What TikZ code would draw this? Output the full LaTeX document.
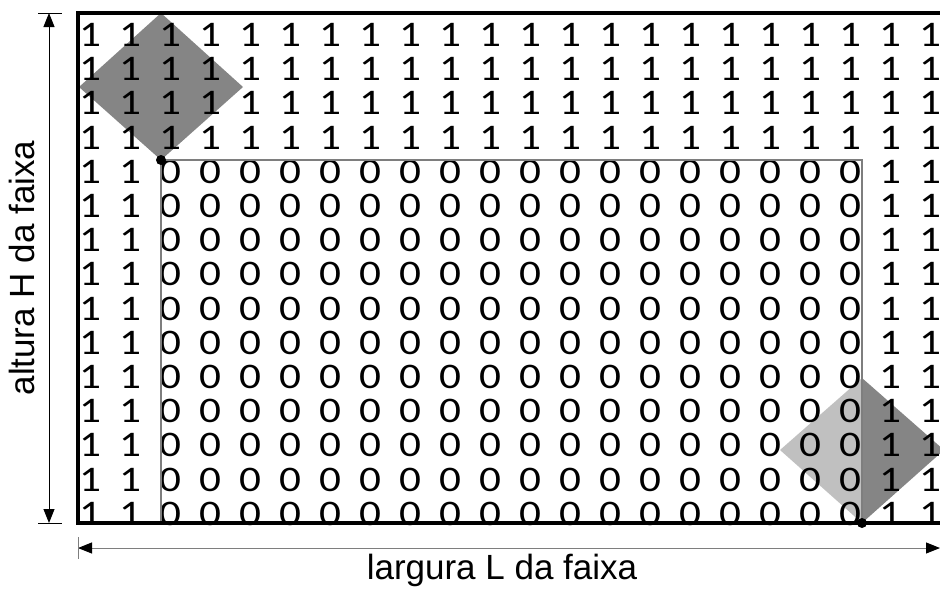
\documentclass[tikz,border=0pt]{standalone}
\usepackage{fontspec}
\setmainfont{Liberation Sans}
\newfontfamily\digitfont{Carlito}
\usetikzlibrary{calc,arrows.meta}
\definecolor{cellgray}{HTML}{858585}
\definecolor{cellgraylight}{HTML}{C0C0C0}
\definecolor{bordergray}{HTML}{7E7E7E}

\begin{document}
\begin{tikzpicture}[x=1pt,y=-1pt,
    digit/.style={anchor=base,inner sep=0pt,xscale=1.2,font=\digitfont\fontsize{36}{36}\selectfont},
    caption/.style={inner sep=0pt,font=\fontsize{35}{35}\selectfont},
    dimline/.style={line width=1pt,{Triangle[length=14pt,width=11pt,color=black]}-{Triangle[length=14pt,width=11pt,color=black]}}]
    \clip (0,0) rectangle (940,590);
    \def\size{5}
    \coordinate (TL) at ( 78, 13);
    \coordinate (TR) at (945, 13);
    \coordinate (BL) at ( 78,523);
    \coordinate (BR) at (945,523);
    \coordinate (P)  at (161,160);
    \coordinate (P') at (862,160);
    \coordinate (Q)  at (862,523);
    \coordinate (Q') at (161,523);
    \coordinate (HT) at ( 49, 13);
    \coordinate (HB) at ( 49,523);
    \coordinate (WL) at ( 78,548);
    \coordinate (WR) at (940,548);
    % window squares
    \fill[cellgray] (161,13) -- (243,87) -- (P) -- (79,87) -- cycle;
    \fill[cellgraylight] (862,378) -- (Q) -- (780,450) -- cycle;
    \fill[cellgray] (862,378) -- (944,450) -- (Q) -- cycle;
    % grid of cells
    \foreach \r in {0,...,14}
      \foreach \c in {0,...,21} {
        \pgfmathtruncatemacro\v{(\r<4)||(\c<2)||(\c>19)}
        \node[digit] (d\r-\c) at ({90+40*\c},{46.5+34.2*\r}) {\v};
      }
    \draw[bordergray,line width=2.5pt] (Q') -- (P) -- (P') -- (Q);
    \draw[line width=4pt] (TR) -- (TL) -- (BL) -- (BR);
    \fill (P) circle (\size); \fill (Q) circle (\size);
    % dimensions
    \draw[dimline] (HB) -- (HT);
    \draw[line width=1pt] ($(HT)+(-11,0)$) -- ($(HT)+(13,0)$);
    \draw[line width=1pt] ($(HB)+(-11,0)$) -- ($(HB)+(13,0)$);
    \draw[dimline,draw=bordergray] (WL) -- (WR);
    \draw[bordergray,line width=1pt] ($(WL)+(0,-11)$) -- ($(WL)+(0,11)$);
    \node[caption] (width) at (502,570) {largura L da faixa};
    \node[caption,rotate=90] (height) at (22,268) {altura H da faixa};
\end{tikzpicture}
\end{document}
